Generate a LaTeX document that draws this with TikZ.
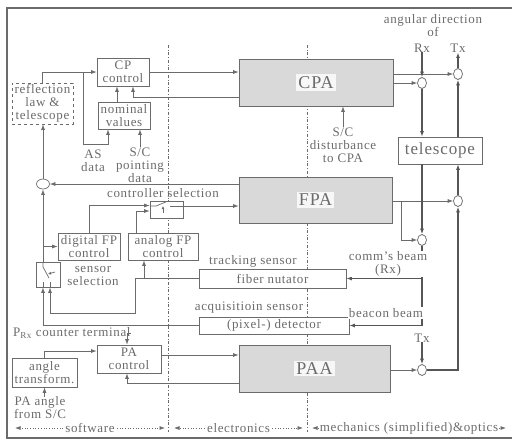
\documentclass[tikz,border=0pt]{standalone}
\usepackage{fontspec}
\setmainfont[LetterSpace=5]{Liberation Serif}
\usetikzlibrary{arrows.meta,shapes.geometric}
\definecolor{ink}{gray}{0.42}
\definecolor{plantfill}{gray}{0.85}
\newcommand{\txtsize}{\fontsize{13}{13}\selectfont}
\newcommand{\bigsize}{\fontsize{18}{18}\selectfont}
\newcommand{\telsize}{\fontsize{17}{17}\selectfont}

\begin{document}
\begin{tikzpicture}[x=1pt,y=-1pt,
  every node/.style={font=\txtsize,text=ink,align=center,inner sep=0pt},
  blk/.style={draw=ink,line width=0.7pt,fill=white},
  plant/.style={draw=ink,line width=0.7pt,fill=plantfill},
  plantlbl/.style={font=\bigsize,fill=white!80!plantfill,inner sep=2pt},
  junc/.style={ellipse,draw=ink,line width=0.7pt,fill=white,minimum width=9,minimum height=11},
  sig/.style={draw=ink,line width=0.7pt},
  beam/.style={draw=ink!80!black,line width=1.4pt},
  divider/.style={draw=ink,dash dot,line width=0.6pt},
  span/.style={draw=ink,dotted,line width=0.7pt},
  >={Latex[length=5.5pt,width=4pt]}]
  \useasboundingbox (0,0) rectangle (512,442);
  % frame and the three domains
  \draw[ink,line width=1.2pt] (516,8) -| (7,438) -- (516,438);
  \draw[divider] (168,45) -- (168,432);
  \draw[divider] (307,45) -- (307,432);

  % blocks
  \node[blk,minimum width=52,minimum height=28] (cpctrl) at (123,72) {CP\\control};
  \node[blk,minimum width=52,minimum height=27] (nomval) at (124,115.5) {nominal\\values};
  \node[blk,dashed,minimum width=61,minimum height=41] (refl) at (42.5,103.5) {reflection\\law \&\\telescope};
  \node[plant,minimum width=154,minimum height=47] (cpa) at (316,82.5) {};
  \node[plantlbl] (cpalbl) at (cpa) {CPA};
  \node[plant,minimum width=153,minimum height=46] (fpa) at (315.5,200) {};
  \node[plantlbl] (fpalbl) at (fpa) {FPA};
  \node[plant,minimum width=151,minimum height=47] (paa) at (314.5,368.5) {};
  \node[plantlbl] (paalbl) at (paa) {PAA};
  \node[blk,font=\telsize,minimum width=84,minimum height=27] (tele) at (440,150.5) {telescope};
  \node[blk,minimum width=33,minimum height=17] (ctrlsel) at (166.5,209.5) {};
  \node[blk,minimum width=62,minimum height=27] (digfp) at (89,246.5) {digital FP\\control};
  \node[blk,minimum width=70,minimum height=27] (anafp) at (163,246.5) {analog FP\\control};
  \node[blk,minimum width=24,minimum height=25] (sensel) at (48,274.5) {};
  \node[blk,minimum width=147,minimum height=19] (nutator) at (272.5,278.5) {fiber nutator};
  \node[blk,minimum width=150,minimum height=17] (detector) at (274,325.5) {(pixel-) detector};
  \node[blk,minimum width=64,minimum height=28] (pactrl) at (129,359) {PA\\control};
  \node[blk,minimum width=65,minimum height=29] (angtr) at (44.5,372.5) {angle\\transform.};

  % summing points
  \node[junc] (jrx1) at (422,83) {};
  \node[junc] (jtx1) at (458,74) {};
  \node[junc] (jfp) at (458,201) {};
  \node[junc] (jrx2) at (422,240) {};
  \node[junc] (jtx2) at (422,370) {};
  \node[junc,minimum width=13,minimum height=10] (jleft) at (43,184) {};

  % labels
  \node (angdir) at (433,25.5) {angular direction\\of};
  \node (rxlbl) at (422,48) {Rx};
  \node (txlbl) at (458,48) {Tx};
  \node (scdist) at (343,145) {S/C\\disturbance\\to CPA};
  \node (asdata) at (93,161) {AS\\data};
  \node (scpd) at (140,165) {S/C\\pointing\\data};
  \node (ctrlsellbl) at (163,193) {controller selection};
  \node (senslbl) at (93,276) {sensor\\selection};
  \node (tracklbl) at (253,261) {tracking sensor};
  \node (acqlbl) at (249,308) {acquisitioin sensor};
  \node (txlbl2) at (422,338) {Tx};
  \node[anchor=west] (prxlbl) at (13,333) {P\textsubscript{Rx} counter terminal};
  \node (paangle) at (40,408) {PA angle\\from S/C};

  % CP loop
  \coordinate (asjoin) at (83,72);
  \coordinate (asin) at (108,144);
  \draw[sig,->] (refl.north) |- (cpctrl.west);
  \draw[sig,->] (asjoin) |- (asin) -- (asin |- nomval.south);
  \draw[sig,->] (scpd.north) -- (scpd.north |- nomval.south);
  \draw[sig,->] ([xshift=-7pt]nomval.north) -- ([xshift=-7pt]nomval.north |- cpctrl.south);
  \draw[sig,->] (cpctrl.east) -- (cpctrl.east -| cpa.west);
  \draw[sig,->] ([yshift=-14.5pt]cpa.west) -| ([xshift=10pt]cpctrl.south);
  \draw[sig,->] (scdist.north) -- (scdist.north |- cpa.south);

  % optics
  \draw[sig,->] (cpa.east |- jtx1) -- (jtx1.west);
  \draw[sig,->] (cpa.east |- jrx1) -- (jrx1.west);
  \draw[beam,->] (rxlbl.south) -- (jrx1.north);
  \draw[beam,->] (jtx1.north) -- (txlbl.south);
  \draw[beam,->] (jrx1.south) -- (jrx1 |- tele.north);
  \draw[beam,->] (jtx1 |- tele.north) -- (jtx1.south);
  \coordinate (fpbr) at (401,201);
  \draw[sig,->] (fpa.east |- jfp) -- (jfp.west);
  \draw[sig,->] (fpbr) |- (jrx2.west);
  \draw[beam,->] (jrx2 |- tele.south) -- (jrx2.north);
  \draw[beam,->] (jfp.north) -- (jfp |- tele.south);
  \draw[beam,->] (jtx2.east) -| (jfp.south);
  \draw[beam,->] (txlbl2.south) -- (jtx2.north);
  \draw[sig,->] (paa.east |- jtx2) -- (jtx2.west);
  \draw[beam,->] (jrx2.south) |- (detector.east);
  \draw[beam,->] (jrx2 |- nutator.east) -- (nutator.east);
  \node[fill=white,inner sep=1pt] (commlbl) at (388,264) {comm’s beam\\(Rx)};
  \node[fill=white,inner sep=1pt] (beaconlbl) at (386,313) {beacon beam};

  % FP loop
  \coordinate (trk1) at (135,313);
  \coordinate (trk2) at (144,278.5);
  \coordinate (digin) at (43,246.5);
  \draw[sig,->] (nutator.west) -| (trk1) -| ([xshift=2pt]sensel.south);
  \draw[sig,->] (trk2) -- (trk2 |- anafp.south);
  \draw[sig,->] (detector.west) -| ([xshift=-5pt]sensel.south);
  \draw[sig,->] ([xshift=-5pt]sensel.north) -- (jleft.south);
  \draw[sig,->] (digin) -- (digfp.west);
  \draw[sig,->] (jleft.north) -- (jleft |- refl.south);
  \draw[sig,->] (fpa.west |- jleft) -- (jleft.east);
  \draw[sig,->] (digfp.north) |- ([yshift=4pt]ctrlsel.west);
  \draw[sig,->] ([xshift=-27pt]anafp.north) |- ([yshift=-1.5pt]ctrlsel.west);
  \draw[sig,->] ([yshift=3.5pt]ctrlsel.east) -- ([yshift=3.5pt]ctrlsel.east -| fpa.west);
  % switches
  \draw[sig] (150,206) -- (156,206) -- (167,201.5);
  \draw[sig] (170,206) -- (183,206);
  \draw[sig,-{Latex[length=3pt,width=3pt]}] (163,213) -- (163,206);
  \draw[sig] (43,262) -- (43,267) -- (49,278);
  \draw[sig,-{Latex[length=3pt,width=3pt]}] (55,272) -- (48,274);
  \draw[sig] (43,282) -- (43,287);
  \draw[sig] (50,282) -- (50,287);

  % PA loop
  \draw[sig,->] (prxlbl.east) -| ([xshift=-2pt]pactrl.north);
  \draw[sig,->] (angtr.north) |- ([yshift=8pt]pactrl.west);
  \draw[sig,->] (angtr.south |- paangle.north) -- (angtr.south);
  \draw[sig,->] ([yshift=4pt]pactrl.east) -- ([yshift=4pt]pactrl.east -| paa.west);
  \draw[sig,->] ([yshift=-14.5pt]paa.west) -| ([xshift=-2pt]pactrl.south);

  % domains
  \coordinate (swl) at (15,428);
  \coordinate (swr) at (165,428);
  \coordinate (ell) at (174,428);
  \coordinate (elr) at (303,428);
  \coordinate (mol) at (312,428);
  \coordinate (mor) at (506,428);
  \node (swlbl) at (90,428) {software};
  \node (ellbl) at (238.5,428) {electronics};
  \node (molbl) at (409,428) {mechanics (simplified)\&optics};
  \draw[span,->] ([xshift=-2pt]swlbl.west) -- (swl);
  \draw[span,->] ([xshift=2pt]swlbl.east) -- (swr);
  \draw[span,->] ([xshift=-2pt]ellbl.west) -- (ell);
  \draw[span,->] ([xshift=2pt]ellbl.east) -- (elr);
  \draw[span,->] ([xshift=-1pt]molbl.west) -- (mol);
  \draw[span,->] ([xshift=1pt]molbl.east) -- (mor);
\end{tikzpicture}
\end{document}
